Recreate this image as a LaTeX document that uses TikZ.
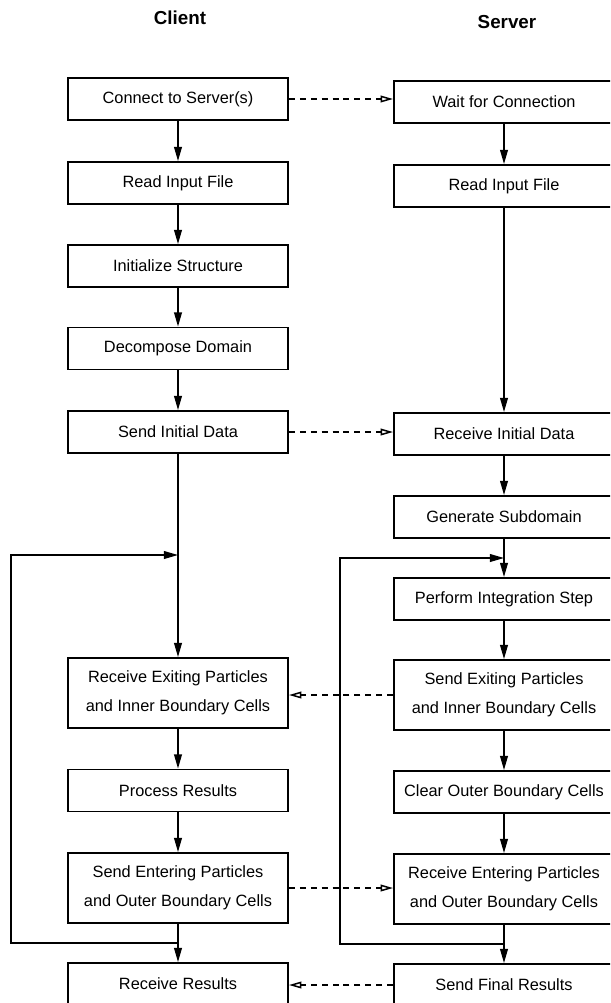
\documentclass[tikz,border=0pt]{standalone}
\usepackage{fontspec}
\setmainfont{Liberation Sans}
\usetikzlibrary{arrows.meta, calc}

\begin{document}
\begin{tikzpicture}[
  task/.style={draw, line width=1.1pt, minimum width=4.4cm, minimum height=0.84cm,
    inner sep=0pt, align=center, font=\fontsize{9.3}{16.5}\selectfont},
  tasktwo/.style={task, minimum height=1.4cm},
  flow/.style={line width=0.85pt, -{Triangle[length=8pt, width=4.4pt]}},
  msg/.style={line width=0.85pt, dash pattern=on 3.4pt off 2.8pt,
    -{Triangle[open, length=7pt, width=3.8pt]}},
  heading/.style={font=\bfseries\fontsize{10.7}{12}\selectfont}]
% Page frame
\path[use as bounding box, clip] (0,0) rectangle (12.2,-20.06);
% Column headings
\node[heading] (client) at (3.6,-0.36) {Client};
\node[heading] (server) at (10.14,-0.44) {Server};
% Client column
\node[task] (connect) at (3.56,-1.98) {Connect to Server(s)};
\node[task] (readc) at (3.56,-3.66) {Read Input File};
\node[task] (init) at (3.56,-5.32) {Initialize Structure};
\node[task] (decomp) at (3.56,-6.97) {Decompose Domain};
\node[task] (sendinit) at (3.56,-8.64) {Send Initial Data};
\node[tasktwo] (recvexit) at (3.56,-13.86) {Receive Exiting Particles\\and Inner Boundary Cells};
\node[task] (process) at (3.56,-15.81) {Process Results};
\node[tasktwo] (sendenter) at (3.56,-17.76) {Send Entering Particles\\and Outer Boundary Cells};
\node[task] (recvres) at (3.56,-19.68) {Receive Results};
% Server column
\node[task] (wait) at (10.08,-2.04) {Wait for Connection};
\node[task] (reads) at (10.08,-3.72) {Read Input File};
\node[task] (recvinit) at (10.08,-8.68) {Receive Initial Data};
\node[task] (gensub) at (10.08,-10.34) {Generate Subdomain};
\node[task] (perform) at (10.08,-11.98) {Perform Integration Step};
\node[tasktwo] (sendexit) at (10.08,-13.90) {Send Exiting Particles\\and Inner Boundary Cells};
\node[task] (clear) at (10.08,-15.84) {Clear Outer Boundary Cells};
\node[tasktwo] (recventer) at (10.08,-17.78) {Receive Entering Particles\\and Outer Boundary Cells};
\node[task] (sendfinal) at (10.08,-19.70) {Send Final Results};
% Client flow
\draw[flow] (connect) -- (readc);
\draw[flow] (readc) -- (init);
\draw[flow] (init) -- (decomp);
\draw[flow] (decomp) -- (sendinit);
\draw[flow] (sendinit) -- (recvexit);
\draw[flow] (recvexit) -- (process);
\draw[flow] (process) -- (sendenter);
\draw[flow] (sendenter) -- (recvres);
% Server flow
\draw[flow] (wait) -- (reads);
\draw[flow] (reads) -- (recvinit);
\draw[flow] (recvinit) -- (gensub);
\draw[flow] (gensub) -- (perform);
\draw[flow] (perform) -- (sendexit);
\draw[flow] (sendexit) -- (clear);
\draw[flow] (clear) -- (recventer);
\draw[flow] (recventer) -- (sendfinal);
% Loops back to the top of each step
\coordinate (splitc) at ($(sendenter.south)!.5!(recvres.north)$);
\coordinate (joinc) at (3.56,-11.1);
\draw[flow] (splitc) -- ++(-3.34,0) |- (joinc);
\coordinate (splits) at ($(recventer.south)!.5!(sendfinal.north)$);
\coordinate (joins) at ($(gensub.south)!.5!(perform.north)$);
\draw[flow] (splits) -- ++(-3.28,0) |- (joins);
% Messages between client and server
\draw[msg] (connect) -- (connect -| wait.west);
\draw[msg] (sendinit) -- (sendinit -| recvinit.west);
\draw[msg] (sendexit) -- (sendexit -| recvexit.east);
\draw[msg] (sendenter) -- (sendenter -| recventer.west);
\draw[msg] (sendfinal) -- (sendfinal -| recvres.east);
\end{tikzpicture}
\end{document}
